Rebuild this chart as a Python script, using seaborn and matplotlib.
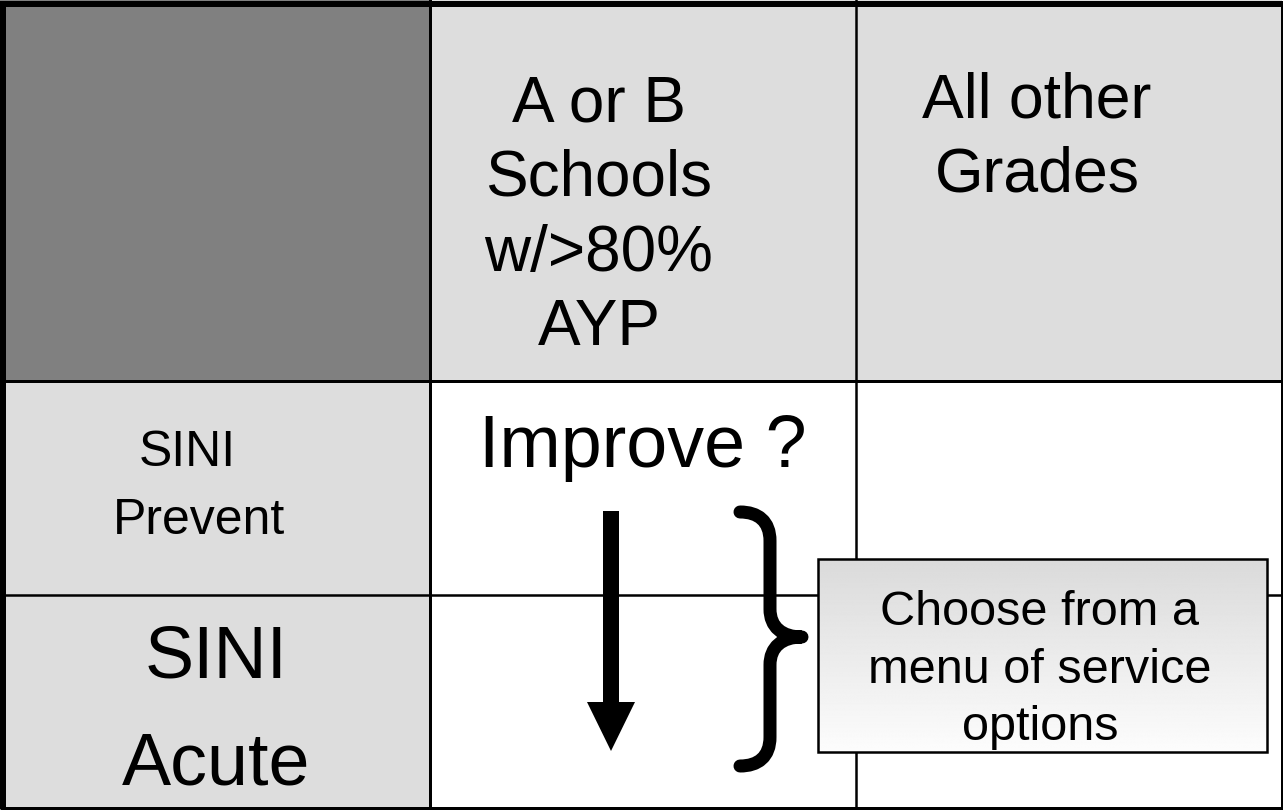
import numpy as np
import matplotlib
matplotlib.use("Agg")
import matplotlib.pyplot as plt
from matplotlib.patches import Rectangle, Polygon, PathPatch
from matplotlib.path import Path
import seaborn as sns

sns.set_theme(style="white")
plt.rcParams['font.family'] = ['Liberation Sans', 'DejaVu Sans']

# ---- content ----
col_headers = ["A or B\nSchools\nw/>80%\nAYP", "All other\nGrades"]
row_headers = ["SINI\nPrevent", "SINI\nAcute"]
cell_text = ["Improve ?"]
callout_text = ["Choose from a", "menu of service", "options"]

# ---- layout (pixel space) ----
W, H = 1283, 812
col_edges = [0, 430, 856, 1282]
row_edges = [0, 382, 596, 808]

fig = plt.figure(figsize=(W / 100, H / 100), dpi=100)
ax = fig.add_axes([0, 0, 1, 1])
ax.set_xlim(0, W)
ax.set_ylim(H, 0)
ax.axis("off")

def px(w):
    return w * 72 / 100.0

# cell fills
fills = {(0, 0): "#808080"}
for c in (1, 2):
    fills[(0, c)] = "#DDDDDD"
for r in (1, 2):
    fills[(r, 0)] = "#DDDDDD"
    for c in (1, 2):
        fills[(r, c)] = "#FFFFFF"
for (r, c), col in fills.items():
    ax.add_patch(Rectangle((col_edges[c], row_edges[r]),
                           col_edges[c + 1] - col_edges[c],
                           row_edges[r + 1] - row_edges[r],
                           facecolor=col, edgecolor="none", zorder=1))

# grid lines
ax.plot([col_edges[1], col_edges[1]], [0, 808], color="black", lw=px(3), zorder=2, solid_capstyle="butt")
ax.plot([col_edges[2], col_edges[2]], [0, 808], color="black", lw=px(2.5), zorder=2, solid_capstyle="butt")
ax.plot([0, W], [row_edges[1], row_edges[1]], color="black", lw=px(3), zorder=2, solid_capstyle="butt")
ax.plot([0, W], [row_edges[2], row_edges[2]], color="black", lw=px(2.5), zorder=2, solid_capstyle="butt")
# outer border
ax.plot([0, W], [5, 5], color="black", lw=px(6), zorder=3, solid_capstyle="butt")
ax.plot([3, 3], [2, 810], color="black", lw=px(6), zorder=3, solid_capstyle="butt")
ax.plot([1281.5, 1281.5], [2, 810], color="black", lw=px(3), zorder=3, solid_capstyle="butt")
ax.plot([0, W], [808.5, 808.5], color="black", lw=px(3), zorder=3, solid_capstyle="butt")

# header texts
hdr1 = col_headers[0].split("\n")
for line, y in zip(hdr1, [122, 196, 271, 345]):
    ax.text(599, y, line, fontsize=46, ha="center", va="baseline", color="black", zorder=5)
hdr2 = col_headers[1].split("\n")
for line, y in zip(hdr2, [117, 192]):
    ax.text(1037, y, line, fontsize=45, ha="center", va="baseline", color="black", zorder=5)

# row header texts
rh1 = row_headers[0].split("\n")
for line, x, y in zip(rh1, [187, 199], [466, 534]):
    ax.text(x, y, line, fontsize=36, ha="center", va="baseline", color="black", zorder=5)
rh2 = row_headers[1].split("\n")
for line, y in zip(rh2, [678, 785]):
    ax.text(216, y, line, fontsize=53, ha="center", va="baseline", color="black", zorder=5)

# cell text
ax.text(643, 467, cell_text[0], fontsize=53, ha="center", va="baseline", color="black", zorder=5)

# down arrow
arrow = Polygon([(603, 512), (619, 512), (619, 703), (635, 703), (611, 752),
                 (587, 703), (603, 703)], closed=True, facecolor="black",
                edgecolor="none", zorder=6)
ax.add_patch(arrow)

# curly brace
verts = [(740, 513),
         (758, 513), (770, 522), (770, 542),
         (770, 610),
         (770, 628), (782, 638), (802, 638),
         (782, 638), (770, 648), (770, 666),
         (770, 738),
         (770, 758), (758, 767), (740, 767)]
codes = [Path.MOVETO,
         Path.CURVE4, Path.CURVE4, Path.CURVE4,
         Path.LINETO,
         Path.CURVE4, Path.CURVE4, Path.CURVE4,
         Path.CURVE4, Path.CURVE4, Path.CURVE4,
         Path.LINETO,
         Path.CURVE4, Path.CURVE4, Path.CURVE4]
ax.add_patch(PathPatch(Path(verts, codes), facecolor="none", edgecolor="black",
                       lw=px(13), capstyle="round", joinstyle="round", zorder=6))

# callout box with gradient
bx0, bx1, by0, by1 = 818, 1267, 560, 753
grad = np.linspace(0.855, 0.99, 256).reshape(-1, 1)
ax.imshow(np.repeat(grad, 2, axis=1), cmap="gray", vmin=0, vmax=1,
          extent=[bx0, bx1, by1, by0], aspect="auto", zorder=7, interpolation="bilinear")
ax.add_patch(Rectangle((bx0, by0), bx1 - bx0, by1 - by0, facecolor="none",
                       edgecolor="black", lw=px(2.5), zorder=8))
for line, y in zip(callout_text, [625, 683, 740]):
    ax.text(1040, y, line, fontsize=35, ha="center", va="baseline", color="black", zorder=9)

ax.set_xlim(0, W)
ax.set_ylim(H, 0)
fig.savefig("out.png", dpi=100)
